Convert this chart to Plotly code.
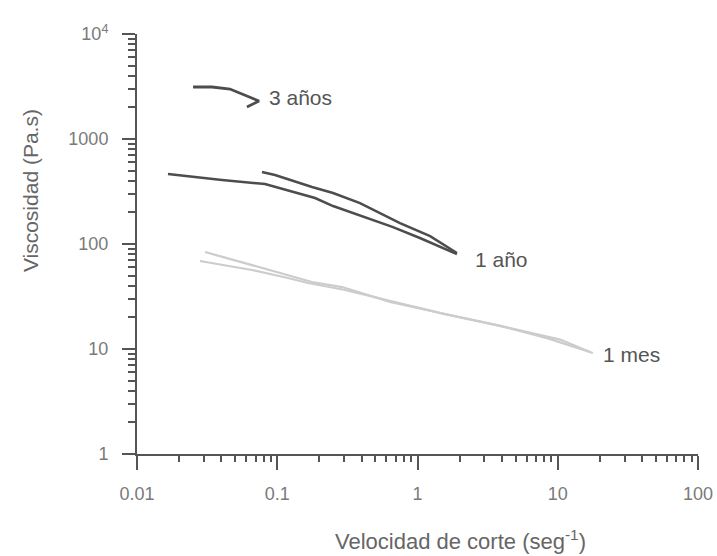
import math
import plotly.graph_objects as go

# ---- data ----
anos3_x = [0.0251, 0.0343, 0.046, 0.0741, 0.0608]
anos3_y = [3127, 3127, 2993, 2301, 2018]

ano1a_x = [0.01663, 0.0404, 0.0818, 0.186, 0.250, 0.669, 1.04, 1.91]
ano1a_y = [464, 407, 373, 274, 230, 145, 114, 80]

ano1b_x = [0.0778, 0.0964, 0.177, 0.250, 0.389, 0.541, 0.750, 1.23, 1.91]
ano1b_y = [485, 454, 349, 306, 245, 197, 158, 119, 82]

mes1a_x = [0.0306, 0.0859, 0.177, 0.290, 0.637, 1.45, 3.69, 8.38, 17.8]
mes1a_y = [83.9, 56.5, 43.5, 38.9, 28.1, 22.0, 16.9, 12.7, 9.17]

mes1b_x = [0.0281, 0.066, 0.119, 0.166, 0.304, 0.658, 1.57, 3.87, 10.4, 17.0]
mes1b_y = [68.9, 56.5, 47.4, 42.5, 36.5, 28.6, 21.5, 16.6, 12.3, 9.35]

x_tickvals = [0.01, 0.1, 1, 10, 100]
x_ticktext = ["0.01", "0.1", "1", "10", "100"]
y_tickvals = [1, 10, 100, 1000, 10000]
y_ticktext = ["1", "10", "100", "1000", "10<sup>4</sup>"]

labels = ["3 años", "1 año", "1 mes"]
label_x = [0.0845, 2.49, 20.3]
label_y = [2512, 70.5, 8.77]

minor_x = [k * 10.0 ** d for d in range(-2, 2) for k in range(2, 10)]
minor_y = [k * 10.0 ** d for d in range(0, 4) for k in range(2, 10)]

dark = "#4d4d4d"
light = "#cccccc"

fig = go.Figure()
for xs, ys, col, w in [
    (mes1a_x, mes1a_y, light, 2.2),
    (mes1b_x, mes1b_y, light, 2.2),
    (ano1a_x, ano1a_y, dark, 2.5),
    (ano1b_x, ano1b_y, dark, 2.5),
    (anos3_x, anos3_y, dark, 2.8),
]:
    fig.add_trace(go.Scatter(x=xs, y=ys, mode="lines",
                             line=dict(color=col, width=w),
                             showlegend=False, hoverinfo="skip"))

font_family = "Liberation Sans, Arial, sans-serif"

# annotations on log axes take log10 coordinates
for t, lx, ly in zip(labels, label_x, label_y):
    fig.add_annotation(x=math.log10(lx), y=math.log10(ly), xref="x", yref="y",
                       text=t, showarrow=False, xanchor="left", yanchor="middle",
                       font=dict(family=font_family, size=21, color="#555555"))

fig.add_annotation(x=0.5775, y=-0.2048, xref="paper", yref="paper",
                   text="Velocidad de corte (seg<sup>-1</sup>)", showarrow=False,
                   xanchor="center", yanchor="middle",
                   font=dict(family=font_family, size=22, color="#666666"))
fig.add_annotation(x=-0.1907, y=0.626, xref="paper", yref="paper",
                   text="Viscosidad (Pa.s)", showarrow=False, textangle=-90,
                   xanchor="center", yanchor="middle",
                   font=dict(family=font_family, size=21, color="#666666"))

fig.update_xaxes(type="log", range=[-2, 2], showgrid=False, zeroline=False,
                 automargin=False, ticklabeloverflow="allow",
                 showline=True, linecolor="#555555", linewidth=2,
                 ticks="outside", ticklen=14, tickwidth=2, tickcolor="#555555",
                 tickmode="array", tickvals=x_tickvals, ticktext=x_ticktext,
                 tickfont=dict(family=font_family, size=18, color="#7a7a7a"),
                 ticklabelstandoff=8,
                 minor=dict(tickmode="array", tickvals=minor_x, ticks="outside",
                            ticklen=6, tickwidth=2, tickcolor="#555555",
                            showgrid=False))
fig.update_yaxes(type="log", range=[0, 4], showgrid=False, zeroline=False,
                 automargin=False,
                 showline=True, linecolor="#555555", linewidth=2,
                 ticks="outside", ticklen=13, tickwidth=2, tickcolor="#555555",
                 tickmode="array", tickvals=y_tickvals, ticktext=y_ticktext,
                 tickfont=dict(family=font_family, size=18, color="#7a7a7a"),
                 ticklabelstandoff=10,
                 minor=dict(tickmode="array", tickvals=minor_y, ticks="outside",
                            ticklen=7, tickwidth=2, tickcolor="#555555",
                            showgrid=False))

fig.update_layout(width=717, height=556,
                  margin=dict(l=137, r=19, t=34, b=102),
                  plot_bgcolor="white", paper_bgcolor="white")

fig.write_html("out.html")
